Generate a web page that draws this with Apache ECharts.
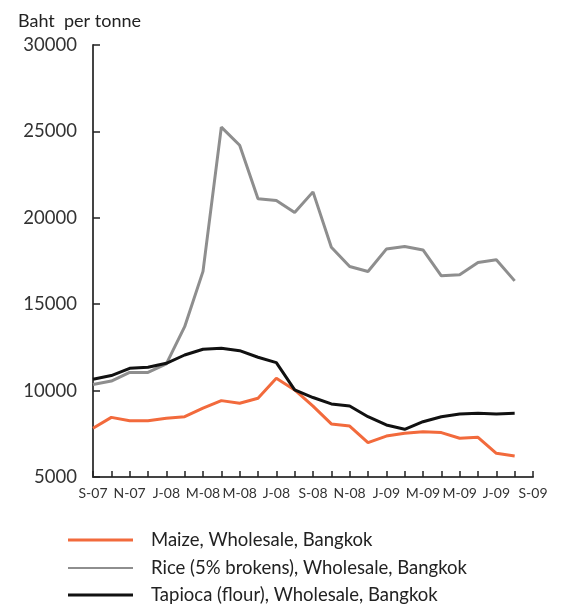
<!DOCTYPE html>
<html>
<head>
<meta charset="utf-8">
<script src="https://cdn.jsdelivr.net/npm/echarts@6/dist/echarts.min.js"></script>
<style>html,body{margin:0;padding:0;background:#fff}#c{width:565px;height:608px}</style>
</head>
<body>
<div id="c"></div>
<script>
const categories = ['S-07','O-07','N-07','D-07','J-08','F-08','M-08','A-08','M-08','J-08','J-08','A-08','S-08','O-08','N-08','D-08','J-09','F-09','M-09','A-09','M-09','J-09','J-09','A-09','S-09'];
const maize = [7820, 8450, 8260, 8260, 8400, 8490, 8980, 9420, 9270, 9560, 10710, 10040, 9100, 8070, 7950, 6990, 7370, 7530, 7620, 7570, 7240, 7300, 6370, 6220];
const rice = [10350, 10550, 11050, 11050, 11550, 13700, 16900, 25250, 24200, 21100, 21000, 20300, 21500, 18300, 17180, 16890, 18190, 18340, 18140, 16640, 16700, 17410, 17570, 16350];
const tapioca = [10660, 10870, 11290, 11350, 11580, 12060, 12390, 12450, 12310, 11930, 11620, 10040, 9600, 9230, 9110, 8490, 8010, 7760, 8200, 8490, 8650, 8690, 8650, 8690];
const yTicks = [5000, 10000, 15000, 20000, 25000, 30000];
const seriesNames = ['Maize, Wholesale, Bangkok', 'Rice (5% brokens), Wholesale, Bangkok', 'Tapioca (flour), Wholesale, Bangkok'];
const colors = ['#f26a3c', '#8e8e8e', '#111111'];

const font = 'Lato, "Open Sans", sans-serif';
const chart = echarts.init(document.getElementById('c'), null, {renderer: 'canvas'});
const mk = (name, data, color) => ({
  name, type: 'line', data, symbol: 'none', smooth: false,
  lineStyle: {color, width: 3}, itemStyle: {color}
});
const legendTops = [525, 553, 580];
const legends = seriesNames.map((n, i) => ({
  orient: 'horizontal', left: 63, top: legendTops[i], itemWidth: 65, itemHeight: i === 1 ? 2 : 3,
  icon: 'rect', data: [n], selectedMode: false,
  textStyle: {fontFamily: font, fontSize: 18.5, lineHeight: 20, color: '#222', padding: [0, 0, 0, 13]}
}));
chart.setOption({
  animation: false,
  backgroundColor: '#fff',
  title: {text: 'Baht  per tonne', left: 13, top: 7, textStyle: {fontFamily: font, fontSize: 18, fontWeight: 'normal', color: '#222'}},
  grid: {left: 93, right: 32, top: 45, bottom: 131, containLabel: false},
  legend: legends,
  xAxis: {
    type: 'category', data: categories, boundaryGap: false,
    axisLine: {lineStyle: {color: '#444', width: 2}},
    axisTick: {inside: true, length: 6, interval: 0, lineStyle: {color: '#222', width: 1.5}},
    axisLabel: {interval: 1, fontFamily: font, fontSize: 14, color: '#333', margin: 9},
    splitLine: {show: false}
  },
  yAxis: {
    type: 'value', min: yTicks[0], max: yTicks[yTicks.length - 1], interval: 5000,
    axisLine: {show: true, lineStyle: {color: '#444', width: 2}},
    axisTick: {show: true, inside: true, length: 7, lineStyle: {color: '#222', width: 1.5}},
    axisLabel: {fontFamily: font, fontSize: 18.5, color: '#333', margin: 16, formatter: v => String(v)},
    splitLine: {show: false}
  },
  series: [mk(seriesNames[0], maize, colors[0]), mk(seriesNames[1], rice, colors[1]), mk(seriesNames[2], tapioca, colors[2])]
});
</script>
</body>
</html>
